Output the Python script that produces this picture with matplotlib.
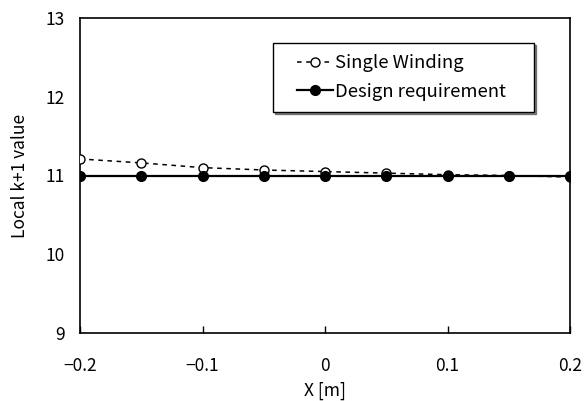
import matplotlib
matplotlib.use("Agg")
import matplotlib.pyplot as plt
from matplotlib.patches import Rectangle, Shadow

x = [-0.2, -0.15, -0.1, -0.05, 0.0, 0.05, 0.1, 0.15, 0.2]
single_winding = [11.21, 11.16, 11.10, 11.07, 11.05, 11.03, 11.01, 11.00, 10.98]
design_requirement = [11.0, 11.0, 11.0, 11.0, 11.0, 11.0, 11.0, 11.0, 11.0]
xticks = [-0.2, -0.1, 0.0, 0.1, 0.2]
xticklabels = ["\u22120.2", "\u22120.1", "0", "0.1", "0.2"]
yticks = [9, 10, 11, 12, 13]

plt.rcParams['font.family'] = ['Noto Sans CJK JP', 'DejaVu Sans']
FS = 12.5
LFS = 13.3

fig = plt.figure(figsize=(5.86, 4.01), dpi=100)
ax = fig.add_axes([80 / 586, 1 - 333 / 401, 490 / 586, 315 / 401])

ax.plot(x, single_winding, linestyle=(0, (3, 3)), color='black', linewidth=1.1,
        marker='o', markersize=6.5, markerfacecolor='white', markeredgecolor='black',
        markeredgewidth=1.0, label='Single Winding', zorder=3)
ax.plot(x, design_requirement, linestyle='-', color='black', linewidth=1.6,
        marker='o', markersize=7, markerfacecolor='black', markeredgecolor='black',
        label='Design requirement', zorder=4)

ax.set_xlim(-0.2, 0.2)
ax.set_ylim(9, 13)
ax.set_xticks(xticks)
ax.set_xticklabels(xticklabels)
ax.set_yticks(yticks)
ax.tick_params(axis='x', direction='in', length=5, width=1, labelsize=FS, pad=17)
ax.tick_params(axis='y', length=0, labelsize=FS, pad=11)
for s in ax.spines.values():
    s.set_linewidth(1.2)

ax.set_xlabel('X [m]', fontsize=FS, labelpad=5)
ax.set_ylabel('Local k+1 value', fontsize=FS, labelpad=12)

# legend frame (box with subtle shadow)
bx0, bx1 = (272.7 - 80) / 490, (534 - 80) / 490
by1, by0 = (333 - 43) / 315, (333 - 112) / 315
frame = Rectangle((bx0, by0), bx1 - bx0, by1 - by0, transform=ax.transAxes,
                  facecolor='white', edgecolor='black', linewidth=1.0, zorder=6)
shadow = Shadow(frame, 1.5 / 490, -1.5 / 315, facecolor='0.35', alpha=0.7, zorder=5.5)
shadow.set_transform(ax.transAxes)
ax.add_patch(shadow)
ax.add_patch(frame)

leg = ax.legend(loc='center', bbox_to_anchor=((bx0 + bx1) / 2 - 0.004, (by0 + by1) / 2),
                fontsize=LFS, frameon=False, handlelength=1.95, handletextpad=0.15,
                borderpad=0.0, labelspacing=0.56, borderaxespad=0)
leg.set_zorder(7)

fig.savefig('out.png', dpi=100)
